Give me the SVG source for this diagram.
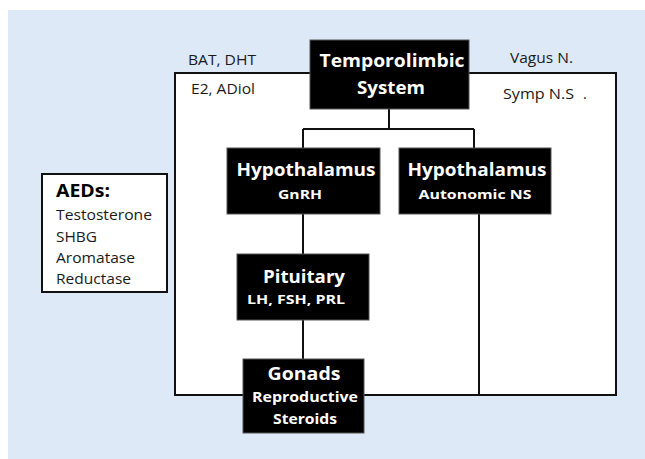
<svg xmlns="http://www.w3.org/2000/svg" width="645" height="459" viewBox="0 0 645 459">
<style>
.t{font-family:"Open Sans","Liberation Sans",sans-serif;fill:#1a1a1a;font-size:14.5px}
.b{font-family:"Open Sans","Liberation Sans",sans-serif;fill:#fff;font-weight:bold;text-anchor:middle}
.h{font-size:17.5px}
.s{font-size:13px}
.m{font-size:14px}
.box{fill:#000;stroke:#555;stroke-width:1}
.ln{stroke:#111;stroke-width:2;fill:none}
</style>
<rect x="0" y="0" width="645" height="459" fill="#fff"/>
<rect x="8" y="10" width="637" height="449" fill="#dde9f7"/>
<g id="frame">
<rect x="175" y="73" width="441" height="322" fill="#fff" stroke="#111" stroke-width="2"/>
</g>
<g id="connectors">
<path class="ln" d="M389 109V129M303 129H474M303 129V148M474 129V148M303 214V254M303 320V359M479 214V395"/>
</g>
<g id="labels">
<text class="t" x="188" y="65" textLength="68" lengthAdjust="spacingAndGlyphs">BAT, DHT</text>
<text class="t" x="191" y="94" textLength="64" lengthAdjust="spacingAndGlyphs">E2, ADiol</text>
<text class="t" x="510" y="63" textLength="63" lengthAdjust="spacingAndGlyphs">Vagus N.</text>
<text class="t" x="503" y="99" textLength="71" lengthAdjust="spacingAndGlyphs">Symp N.S</text>
<text class="t" x="583" y="99">.</text>
</g>
<g id="temporolimbic">
<rect class="box" x="310" y="40" width="159" height="69"/>
<text class="b h" x="392" y="67" textLength="145" lengthAdjust="spacingAndGlyphs">Temporolimbic</text>
<text class="b h" x="391" y="94" textLength="68" lengthAdjust="spacingAndGlyphs">System</text>
</g>
<g id="hypothalamus-gnrh">
<rect class="box" x="227" y="148" width="153" height="66"/>
<text class="b h" x="306" y="176" textLength="139" lengthAdjust="spacingAndGlyphs">Hypothalamus</text>
<text class="b s" x="300" y="199" textLength="44" lengthAdjust="spacingAndGlyphs">GnRH</text>
</g>
<g id="hypothalamus-ans">
<rect class="box" x="399" y="148" width="152" height="66"/>
<text class="b h" x="477" y="176" textLength="139" lengthAdjust="spacingAndGlyphs">Hypothalamus</text>
<text class="b s" x="475" y="199" textLength="113" lengthAdjust="spacingAndGlyphs">Autonomic NS</text>
</g>
<g id="pituitary">
<rect class="box" x="237" y="254" width="132" height="66"/>
<text class="b h" x="304" y="283" textLength="82" lengthAdjust="spacingAndGlyphs">Pituitary</text>
<text class="b s" x="296" y="304" textLength="98" lengthAdjust="spacingAndGlyphs">LH, FSH, PRL</text>
</g>
<g id="gonads">
<rect class="box" x="243" y="359" width="121" height="74"/>
<text class="b h" x="304" y="380" textLength="73" lengthAdjust="spacingAndGlyphs">Gonads</text>
<text class="b m" x="305" y="402" textLength="106" lengthAdjust="spacingAndGlyphs">Reproductive</text>
<text class="b m" x="305" y="424" textLength="64" lengthAdjust="spacingAndGlyphs">Steroids</text>
</g>
<g id="aeds">
<rect x="42" y="174" width="125" height="118" fill="#fff" stroke="#111" stroke-width="2"/>
<text class="t" style="font-weight:bold;font-size:17px;fill:#000" x="56" y="197" textLength="54" lengthAdjust="spacingAndGlyphs">AEDs:</text>
<text class="t" x="56" y="220" textLength="96" lengthAdjust="spacingAndGlyphs">Testosterone</text>
<text class="t" x="56" y="242" textLength="41" lengthAdjust="spacingAndGlyphs">SHBG</text>
<text class="t" x="56" y="263" textLength="79" lengthAdjust="spacingAndGlyphs">Aromatase</text>
<text class="t" x="56" y="284" textLength="75" lengthAdjust="spacingAndGlyphs">Reductase</text>
</g>
</svg>
